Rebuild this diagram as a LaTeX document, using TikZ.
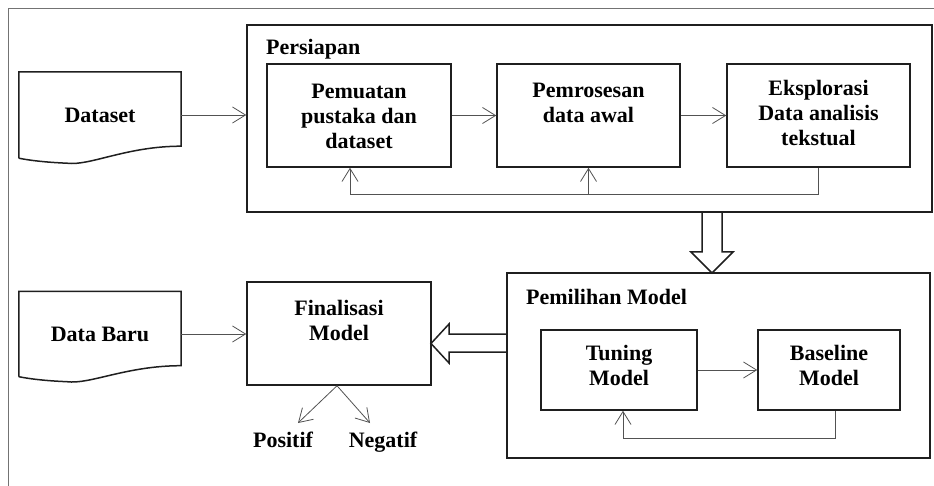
\documentclass[tikz,border=0pt]{standalone}
\usepackage{fontspec}
\setmainfont{Liberation Serif}
\usetikzlibrary{arrows.meta,calc}
\begin{document}
\begin{tikzpicture}[x=1pt,y=-1pt,
  box/.style={draw=black!88, line width=1.5pt, inner sep=0pt, rectangle},
  docline/.style={draw=black!88, line width=1.5pt, line join=miter},
  txt/.style={font=\bfseries\fontsize{22}{25}\selectfont, align=center, inner sep=0pt, text=black},
  arr/.style={draw=black!68, line width=0.8pt, -{Straight Barb[length=13pt,width=16pt,line width=0.8pt]}},
  block/.style={draw=black!88, line width=1.5pt, line join=miter}]
\useasboundingbox (0,0) rectangle (934,486);
% outer frame
\draw[black!55, line width=1pt] (934,9) -- (8,9) -- (8,486);

% block arrows (drawn first)
\draw[block] (702,212) -- (702,252) -- (691,252) -- (712,273) -- (733,252) -- (722,252) -- (722,212);
\draw[block] (507,334) -- (449,334) -- (449,324) -- (431,343.5) -- (449,363) -- (449,352) -- (507,352);

% Persiapan
\node[box, minimum width=685pt, minimum height=187pt] (persiapan) at (589.5,118.5) {};
\node[txt, anchor=west] (persiapanlbl) at (266,49) {Persiapan};
\node[box, minimum width=184pt, minimum height=103pt] (pemuatan) at (359,115.5) {};
\node[txt, anchor=north] (pemuatantxt) at (359,84) {Pemuatan\\pustaka dan\\dataset};
\node[box, minimum width=183pt, minimum height=103pt] (pemrosesan) at (588.5,115.5) {};
\node[txt, anchor=north] (pemrosesantxt) at (588.5,83) {Pemrosesan\\data awal};
\node[box, minimum width=183pt, minimum height=103pt] (eksplorasi) at (818.5,115.5) {};
\node[txt, anchor=north] (eksplorasitxt) at (818.5,80) {Eksplorasi\\Data analisis\\tekstual};

% Dataset document
\node[txt, minimum width=162pt, minimum height=86pt] (dataset) at (100,115) {Dataset};
\draw[docline] (dataset.south west) -- (dataset.north west) -- (dataset.north east)
  -- ($(dataset.south east)+(0,-12)$)
  .. controls ($(dataset.south east)+(-55,-12)$) and ($(dataset.south)+(-10,8)$) .. ($(dataset.south west)+(48,5)$)
  .. controls ($(dataset.south west)+(25,4)$) and ($(dataset.south west)+(10,2)$) .. (dataset.south west);

\draw[arr] (dataset.east) -- (dataset.east -| persiapan.west);
\draw[arr] (pemuatan.east) -- (pemrosesan.west);
\draw[arr] (pemrosesan.east) -- (eksplorasi.west);
\coordinate (fb) at (0,194);
\draw[arr] (eksplorasi.south) |- ($(pemuatan.south |- fb)+(-9,0)$) -- ($(pemuatan.south)+(-9,0)$);
\draw[arr] (pemrosesan.south |- fb) -- (pemrosesan.south);

% Pemilihan Model
\node[box, minimum width=423pt, minimum height=185pt] (pemilihan) at (718.5,365.5) {};
\node[txt, anchor=west] (pemilihanlbl) at (526,297) {Pemilihan Model};
\node[box, minimum width=156pt, minimum height=80pt] (tuning) at (619,370) {};
\node[txt, anchor=north] (tuningtxt) at (619,345) {Tuning\\Model};
\node[box, minimum width=142pt, minimum height=80pt] (baseline) at (829,370) {};
\node[txt, anchor=north] (baselinetxt) at (829,345) {Baseline\\Model};
\draw[arr] (tuning.east) -- (baseline.west);
\draw[arr] ($(baseline.south)+(6,0)$) -- ++(0,28) -| ($(tuning.south)+(4,0)$);

% Finalisasi
\node[box, minimum width=184pt, minimum height=103pt] (finalisasi) at (339,333.5) {};
\node[txt, anchor=north] (finalisasitxt) at (339,300) {Finalisasi\\Model};

% Data Baru document
\node[txt, minimum width=162pt, minimum height=85pt] (databaru) at (100,334) {Data Baru};
\draw[docline] (databaru.south west) -- (databaru.north west) -- (databaru.north east)
  -- ($(databaru.south east)+(0,-11)$)
  .. controls ($(databaru.south east)+(-55,-11)$) and ($(databaru.south)+(-10,8)$) .. ($(databaru.south west)+(48,5)$)
  .. controls ($(databaru.south west)+(25,4)$) and ($(databaru.south west)+(10,2)$) .. (databaru.south west);
\draw[arr] (databaru.east) -- (databaru.east -| finalisasi.west);

% outputs
\node[txt, anchor=base] (positif) at (283,447) {Positif};
\node[txt, anchor=base] (negatif) at (383,447) {Negatif};
\coordinate (pa) at (298,423);
\coordinate (na) at (370,423);
\draw[arr] ($(finalisasi.south)+(-2,0)$) -- (pa);
\draw[arr] ($(finalisasi.south)+(-2,0)$) -- (na);
\end{tikzpicture}
\end{document}
